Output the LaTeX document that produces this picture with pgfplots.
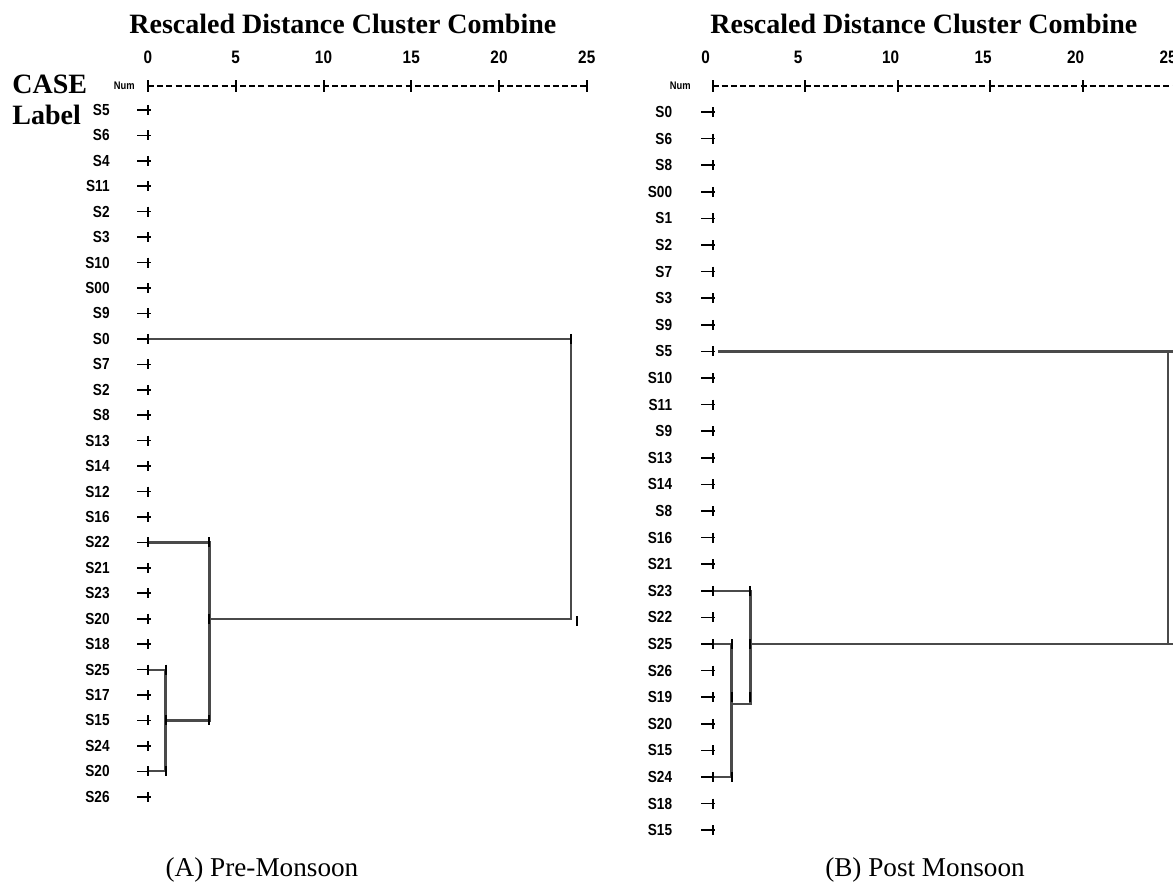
\documentclass[border=0pt]{standalone}
\usepackage{pgfplots}
\pgfplotsset{compat=1.18}
\usepackage{fontspec}
\setmainfont{Liberation Serif}
\newfontfamily\labfont{Liberation Sans}[FakeStretch=0.85]
\definecolor{lnc}{HTML}{4A4A4A}
\pgfplotsset{
  dendro/.style={
    y dir=reverse, clip=false,
    axis line style={draw=none},
    tick style={draw=none},
    major tick length=0pt,
    xmin=0, xmax=25,
    xtick={0,5,10,15,20,25},
    xticklabels={0,5,10,15,20,25},
    xticklabel pos=right,
    xticklabel style={font=\labfont\bfseries\fontsize{9}{10}\selectfont, anchor=base, inner sep=0pt, yshift=11.5pt},
    ytick={0,...,27},
    yticklabel style={font=\labfont\bfseries\fontsize{8}{9}\selectfont, anchor=east, inner sep=0pt},
    anchor=north west,
  },
  dl/.style={lnc, line width=1.1pt},
  stub/.style={black, line width=0.8pt},
  plus/.style={only marks, mark=|, mark size=2.5pt, mark options={black, line width=1pt}},
  axisline/.style={black, line width=0.6pt, dash pattern=on 3pt off 1.6pt},
}
\begin{document}
\begin{tikzpicture}
\useasboundingbox (0,0) rectangle (586.5pt,-441pt);
\clip (0,0) rectangle (586.5pt,-441pt);
% ---------------- Left panel: Pre-Monsoon ----------------
\begin{axis}[dendro, at={(74pt,-43pt)}, x=8.775pt, y=12.72pt, ymin=-0.94, ymax=27.6,
  yticklabels={S5,S6,S4,S11,S2,S3,S10,S00,S9,S0,S7,S2,S8,S13,S14,S12,S16,S22,S21,S23,S20,S18,S25,S17,S15,S24,S20,S26},
  yticklabel style={xshift=-19pt}]
\addplot[axisline] coordinates {(0,-0.94) (25,-0.94)};
\addplot[plus, mark size=3pt] coordinates {(0,-0.94) (5,-0.94) (10,-0.94) (15,-0.94) (20,-0.94) (25,-0.94)};
\pgfplotsinvokeforeach{0,...,27}{\addplot[stub] coordinates {(-0.62,#1) (0.15,#1)};}
% dendrogram links
\addplot[dl] coordinates {(0,9) (24.1,9) (24.1,20) (3.5,20)};
\addplot[dl] coordinates {(0,17) (3.5,17) (3.5,24) (1.0,24)};
\addplot[dl] coordinates {(0,22) (1.0,22) (1.0,26) (0,26)};
\addplot[plus] coordinates {
(0,0) (0,1) (0,2) (0,3) (0,4) (0,5) (0,6) (0,7) (0,8) (0,9) (0,10) (0,11) (0,12) (0,13)
(0,14) (0,15) (0,16) (0,17) (0,18) (0,19) (0,20) (0,21) (0,22) (0,23) (0,24) (0,25) (0,26) (0,27)
(24.1,9) (24.45,20.1) (3.5,17) (3.5,20) (3.5,24) (1.0,22) (1.0,24) (1.0,26)};
\end{axis}
% ---------------- Right panel: Post Monsoon ----------------
\begin{axis}[dendro, at={(356.25pt,-43pt)}, x=9.25pt, y=13.3pt, ymin=-0.98, ymax=27.6,
  yticklabels={S0,S6,S8,S00,S1,S2,S7,S3,S9,S5,S10,S11,S9,S13,S14,S8,S16,S21,S23,S22,S25,S26,S19,S20,S15,S24,S18,S15},
  yticklabel style={xshift=-20pt},
  xticklabel style={xshift=-3.5pt}]
\addplot[axisline] coordinates {(0,-0.98) (25,-0.98)};
\addplot[plus, mark size=3pt] coordinates {(0,-0.98) (5,-0.98) (10,-0.98) (15,-0.98) (20,-0.98) (25,-0.98)};
\pgfplotsinvokeforeach{0,...,27}{\addplot[stub] coordinates {(-0.62,#1) (0.15,#1)};}
\addplot[dl] coordinates {(0.3,9) (25.3,9)};
\addplot[dl] coordinates {(24.62,9) (24.62,20)};
\addplot[dl] coordinates {(0,18) (2.05,18) (2.05,22.25) (1.03,22.25)};
\addplot[dl] coordinates {(2.05,20) (25.3,20)};
\addplot[dl] coordinates {(0,20) (1.03,20) (1.03,25) (0,25)};
\addplot[plus] coordinates {
(0,0) (0,1) (0,2) (0,3) (0,4) (0,5) (0,6) (0,7) (0,8) (0,9) (0,10) (0,11) (0,12) (0,13)
(0,14) (0,15) (0,16) (0,17) (0,18) (0,19) (0,20) (0,21) (0,22) (0,23) (0,24) (0,25) (0,26) (0,27)
(2.05,18) (2.05,20) (2.05,22) (1.03,20) (1.03,22) (1.03,25)};
\end{axis}
% ---------------- texts ----------------
\node[anchor=base west, font=\bfseries\fontsize{14}{16}\selectfont, inner sep=0pt] at (64.5pt,-17pt) {Rescaled Distance Cluster Combine};
\node[anchor=base west, font=\bfseries\fontsize{14}{16}\selectfont, inner sep=0pt] at (355pt,-17pt) {Rescaled Distance Cluster Combine};
\node[anchor=base west, font=\bfseries\fontsize{14}{16}\selectfont, inner sep=0pt] at (6pt,-47pt) {CASE};
\node[anchor=base west, font=\bfseries\fontsize{14}{16}\selectfont, inner sep=0pt] at (6pt,-62.5pt) {Label};
\node[anchor=east, font=\labfont\bfseries\fontsize{5.5}{6}\selectfont, inner sep=0pt] at (67.5pt,-43pt) {Num};
\node[anchor=east, font=\labfont\bfseries\fontsize{5.5}{6}\selectfont, inner sep=0pt] at (345.5pt,-43pt) {Num};
\node[font=\fontsize{13.6}{15}\selectfont] at (131pt,-435pt) {(A) Pre-Monsoon};
\node[font=\fontsize{13.6}{15}\selectfont] at (462.5pt,-435pt) {(B) Post Monsoon};
\end{tikzpicture}
\end{document}
